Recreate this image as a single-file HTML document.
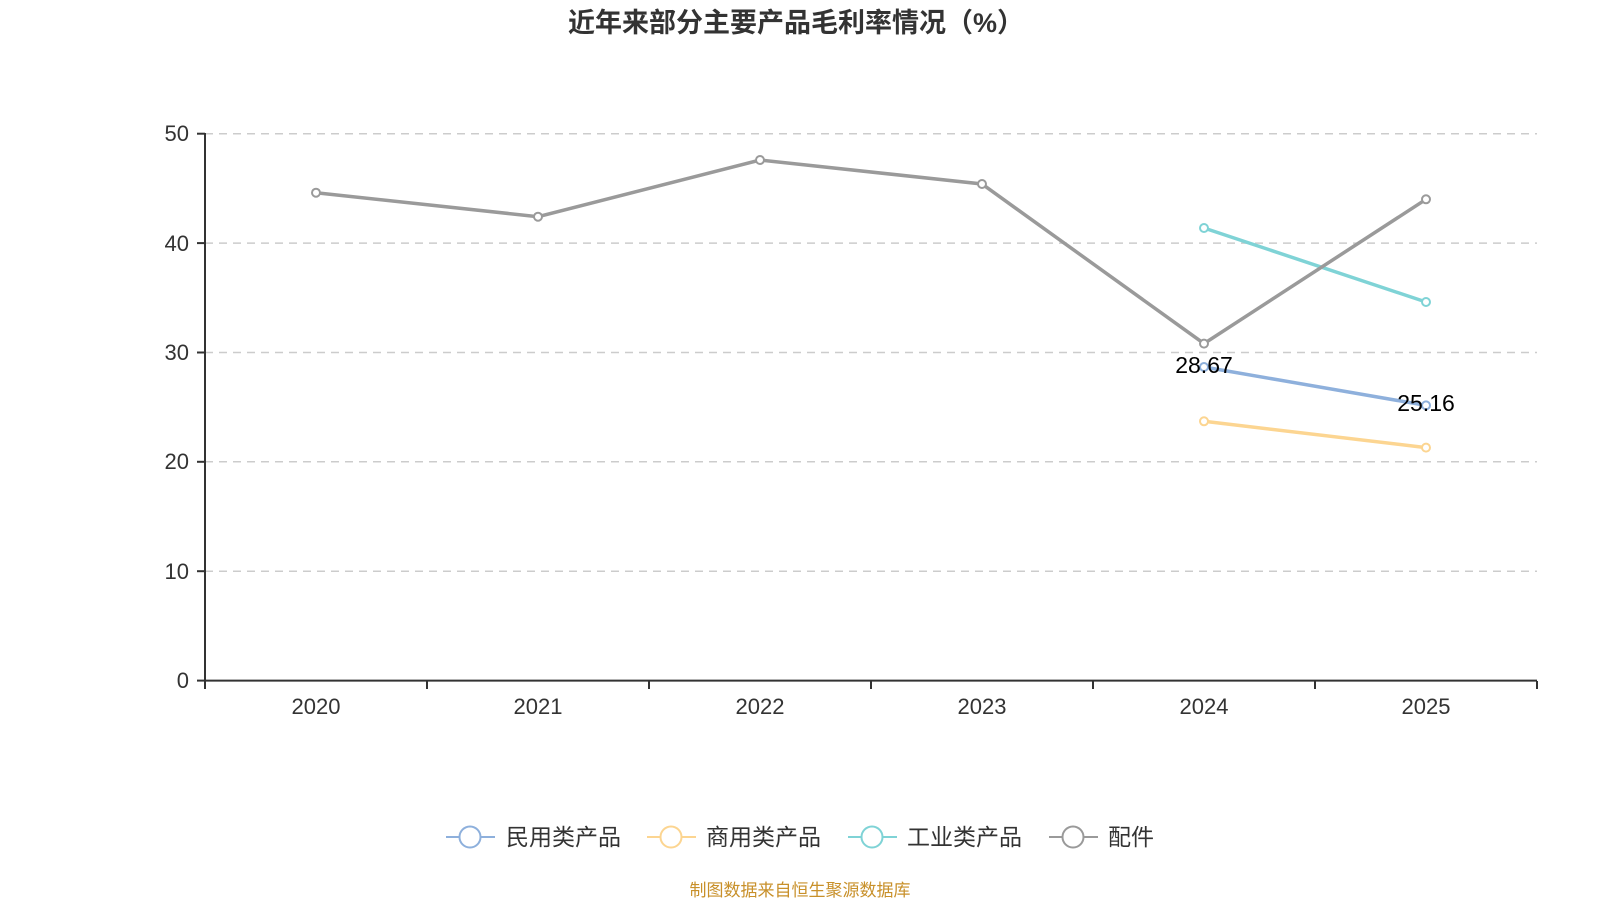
<!DOCTYPE html>
<html><head><meta charset="utf-8"><style>
html,body{margin:0;padding:0;background:#fff;}
svg{display:block;font-family:"Liberation Sans","Noto Sans CJK SC",sans-serif;}
</style></head><body>
<svg width="1600" height="900" viewBox="0 0 1600 900">
<text x="796" y="32" text-anchor="middle" font-size="27" font-weight="bold" fill="#333">近年来部分主要产品毛利率情况（%）</text>
<g stroke="#ccc" stroke-width="1.5" stroke-dasharray="8,6">
<line x1="205" x2="1537" y1="133.7" y2="133.7"/>
<line x1="205" x2="1537" y1="243.1" y2="243.1"/>
<line x1="205" x2="1537" y1="352.5" y2="352.5"/>
<line x1="205" x2="1537" y1="461.8" y2="461.8"/>
<line x1="205" x2="1537" y1="571.2" y2="571.2"/>
</g>
<g stroke="#333" stroke-width="2">
<line x1="205" x2="205" y1="133" y2="681"/>
<line x1="205" x2="1537" y1="680.6" y2="680.6"/>
<line x1="197" x2="205" y1="133.7" y2="133.7"/>
<line x1="197" x2="205" y1="243.1" y2="243.1"/>
<line x1="197" x2="205" y1="352.5" y2="352.5"/>
<line x1="197" x2="205" y1="461.8" y2="461.8"/>
<line x1="197" x2="205" y1="571.2" y2="571.2"/>
<line x1="197" x2="205" y1="680.6" y2="680.6"/>
<line x1="205" x2="205" y1="681" y2="689"/>
<line x1="427" x2="427" y1="681" y2="689"/>
<line x1="649" x2="649" y1="681" y2="689"/>
<line x1="871" x2="871" y1="681" y2="689"/>
<line x1="1093" x2="1093" y1="681" y2="689"/>
<line x1="1315" x2="1315" y1="681" y2="689"/>
<line x1="1537" x2="1537" y1="681" y2="689"/>
</g>
<g font-size="22" fill="#333" text-anchor="end">
<text x="189" y="141">50</text><text x="189" y="251">40</text><text x="189" y="360">30</text>
<text x="189" y="469">20</text><text x="189" y="579">10</text><text x="189" y="688">0</text>
</g>
<g font-size="22" fill="#333" text-anchor="middle">
<text x="316" y="714">2020</text><text x="538" y="714">2021</text><text x="760" y="714">2022</text>
<text x="982" y="714">2023</text><text x="1204" y="714">2024</text><text x="1426" y="714">2025</text>
</g>
<g fill="none" stroke-width="3.5">
<polyline stroke="#8eb0dc" points="1204,367 1426,405.4"/>
<polyline stroke="#fcd591" points="1204,421.3 1426,447.6"/>
<polyline stroke="#7fd3d6" points="1204,228 1426,302"/>
<polyline stroke="#9a9a9a" points="316,192.7 538,216.7 760,160 982,184 1204,343.6 1426,199.3"/>
</g>
<g fill="#fff" stroke-width="2">
<g stroke="#8eb0dc"><circle cx="1204" cy="367" r="4"/><circle cx="1426" cy="405.4" r="4"/></g>
<g stroke="#fcd591"><circle cx="1204" cy="421.3" r="4"/><circle cx="1426" cy="447.6" r="4"/></g>
<g stroke="#7fd3d6"><circle cx="1204" cy="228" r="4"/><circle cx="1426" cy="302" r="4"/></g>
<g stroke="#9a9a9a"><circle cx="316" cy="192.7" r="4"/><circle cx="538" cy="216.7" r="4"/><circle cx="760" cy="160" r="4"/><circle cx="982" cy="184" r="4"/><circle cx="1204" cy="343.6" r="4"/><circle cx="1426" cy="199.3" r="4"/></g>
</g>
<g font-size="23" fill="#000" text-anchor="middle">
<text x="1204" y="373">28.67</text><text x="1426" y="411">25.16</text>
</g>
<g font-size="23" fill="#333" stroke-width="2">
<line x1="446" x2="495" y1="837" y2="837" stroke="#8eb0dc"/><circle cx="470" cy="837" r="10.5" fill="#fff" stroke="#8eb0dc"/>
<text x="506" y="845">民用类产品</text>
<line x1="647" x2="696" y1="837" y2="837" stroke="#fcd591"/><circle cx="671" cy="837" r="10.5" fill="#fff" stroke="#fcd591"/>
<text x="706" y="845">商用类产品</text>
<line x1="848" x2="897" y1="837" y2="837" stroke="#7fd3d6"/><circle cx="872" cy="837" r="10.5" fill="#fff" stroke="#7fd3d6"/>
<text x="907" y="845">工业类产品</text>
<line x1="1049" x2="1098" y1="837" y2="837" stroke="#9a9a9a"/><circle cx="1073" cy="837" r="10.5" fill="#fff" stroke="#9a9a9a"/>
<text x="1108" y="845">配件</text>
</g>
<text x="800" y="896" text-anchor="middle" font-size="17" fill="#c8902a">制图数据来自恒生聚源数据库</text>
</svg>
</body></html>
